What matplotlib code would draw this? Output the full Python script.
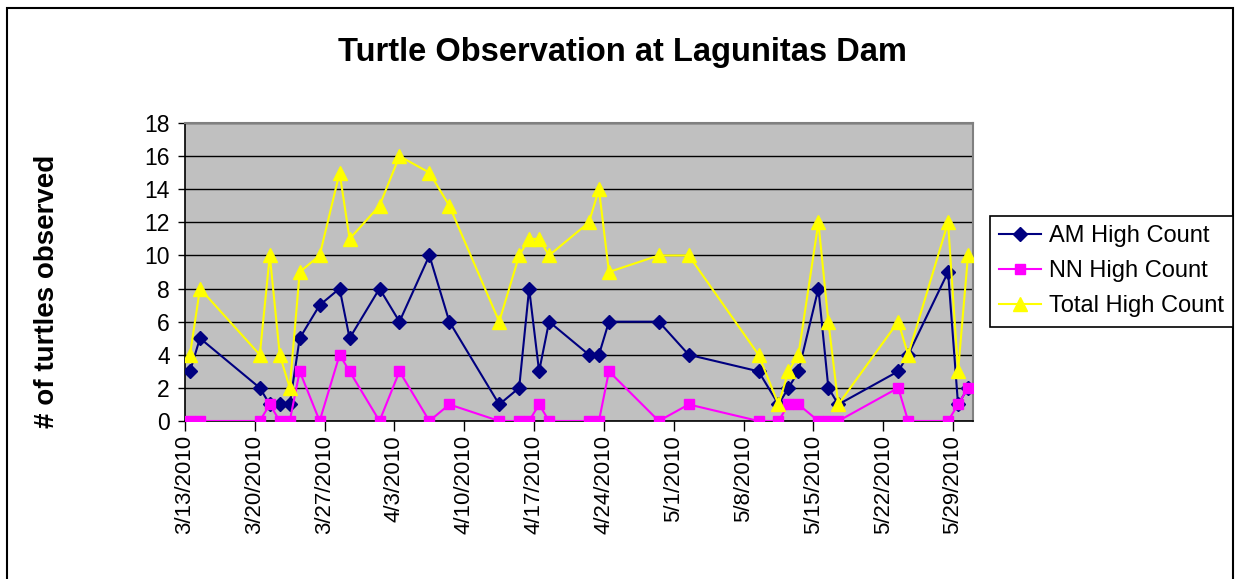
import matplotlib
matplotlib.use("Agg")
import matplotlib.pyplot as plt
from matplotlib.patches import Rectangle
import pandas as pd

dates = ["2010-03-13", "2010-03-14", "2010-03-20", "2010-03-21", "2010-03-22", "2010-03-23",
         "2010-03-24", "2010-03-26", "2010-03-28", "2010-03-29", "2010-04-01", "2010-04-03",
         "2010-04-06", "2010-04-08", "2010-04-13", "2010-04-15", "2010-04-16", "2010-04-17",
         "2010-04-18", "2010-04-22", "2010-04-23", "2010-04-24", "2010-04-29", "2010-05-02",
         "2010-05-09", "2010-05-11", "2010-05-12", "2010-05-13", "2010-05-15", "2010-05-16",
         "2010-05-17", "2010-05-23", "2010-05-24", "2010-05-28", "2010-05-29", "2010-05-30"]
am_high = [3, 5, 2, 1, 1, 1, 5, 7, 8, 5, 8, 6, 10, 6, 1, 2, 8, 3, 6, 4, 4, 6, 6, 4,
           3, 1, 2, 3, 8, 2, 1, 3, 4, 9, 1, 2]
nn_high = [0, 0, 0, 1, 0, 0, 3, 0, 4, 3, 0, 3, 0, 1, 0, 0, 0, 1, 0, 0, 0, 3, 0, 1,
           0, 0, 1, 1, 0, 0, 0, 2, 0, 0, 1, 2]
total_high = [4, 8, 4, 10, 4, 2, 9, 10, 15, 11, 13, 16, 15, 13, 6, 10, 11, 11, 10, 12, 14, 9, 10, 10,
              4, 1, 3, 4, 12, 6, 1, 6, 4, 12, 3, 10]
series_names = ["AM High Count", "NN High Count", "Total High Count"]
title = "Turtle Observation at Lagunitas Dam"
ylabel = "# of turtles observed"
y_ticks = [0, 2, 4, 6, 8, 10, 12, 14, 16, 18]
x_start, x_end = "2010-03-13", "2010-05-31"

plt.rcParams['font.family'] = ['Liberation Sans', 'DejaVu Sans']

W, H = 1236, 579
fig = plt.figure(figsize=(W / 100, H / 100), dpi=100)
fig.patch.set_facecolor("white")

# chart-area border
fig.add_artist(Rectangle((7 / W, -0.05), (1233 - 7) / W, 1.05 - 8 / H,
                         transform=fig.transFigure, fill=False, edgecolor="black", lw=1.5))

ax = fig.add_axes([185 / W, 1 - 421 / H, 788 / W, 298 / H])
ax.set_facecolor("#C0C0C0")

# Excel places points mid-day between date ticks
x = pd.to_datetime(dates) + pd.Timedelta(hours=12)

ax.plot(x, am_high, color="#000080", marker="D", markersize=7.5, lw=1.5, label=series_names[0], zorder=3)
ax.plot(x, nn_high, color="#FF00FF", marker="s", markersize=7.5, lw=1.5, label=series_names[1], zorder=4)
ax.plot(x, total_high, color="#FFFF00", marker="^", markersize=9.5, lw=1.5, label=series_names[2], zorder=5)

ax.set_ylim(0, 18)
ax.set_yticks(y_ticks)
ax.set_xlim(pd.Timestamp(x_start), pd.Timestamp(x_end))
xt = pd.date_range(x_start, "2010-05-29", freq="7D")
ax.set_xticks(xt)
ax.set_xticklabels([f"{d.month}/{d.day}/{d.year}" for d in xt], rotation=90, fontsize=16)
ax.tick_params(axis="y", labelsize=16.5, length=5, direction="out", width=1, pad=6)
ax.tick_params(axis="x", length=7, direction="out", width=1, pad=3)
ax.grid(axis="y", color="black", lw=1, zorder=1)
ax.set_axisbelow(True)
for s in ["top", "right"]:
    ax.spines[s].set_color("#808080")
    ax.spines[s].set_linewidth(1.5)
for s in ["left", "bottom"]:
    ax.spines[s].set_color("black")
    ax.spines[s].set_linewidth(1.2)

fig.text(622 / W, 1 - 52 / H, title, ha="center", va="center", fontsize=23.5, fontweight="bold")
fig.text(47 / W, 1 - 291 / H, ylabel, ha="center", va="center", rotation=90, fontsize=20, fontweight="bold")

leg = fig.legend(loc="upper left", bbox_to_anchor=(990 / W, 1 - 216 / H), fontsize=17,
                 frameon=True, fancybox=False, edgecolor="black", framealpha=1,
                 handlelength=1.75, handletextpad=0.35, borderpad=0.4, labelspacing=0.55,
                 borderaxespad=0)
leg.get_frame().set_linewidth(1.2)

fig.savefig("out.png", dpi=100)
